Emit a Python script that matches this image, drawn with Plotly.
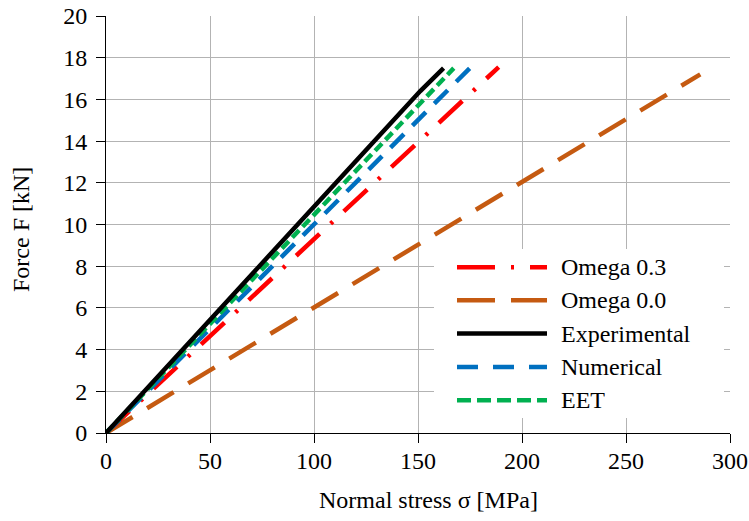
import plotly.graph_objects as go

# Force vs. normal stress for the five models / measurements
exp_stress = [0, 148.0, 151.1, 162.3]
exp_force = [0, 16.0, 16.4, 17.5]

eet_stress = [0, 167.2]
eet_force = [0, 17.5]

num_stress = [0, 174.9]
num_force = [0, 17.5]

om03_stress = [0, 188.8]
om03_force = [0, 17.55]

om00_stress = [0, 285.7]
om00_force = [0, 17.2]

x_ticks = [0, 50, 100, 150, 200, 250, 300]
y_ticks = [0, 2, 4, 6, 8, 10, 12, 14, 16, 18, 20]

FONT = "Liberation Serif"
FS = 24
W, H = 749, 521
ML, MR, MT, MB = 106, 19, 16, 88
PW, PH = W - ML - MR, H - MT - MB


def px_x(p):
    return (p - ML) / PW


def px_y(p):
    return (H - MB - p) / PH


series = [
    # name, x, y, color, plot dash, legend dash
    ("Omega 0.3", om03_stress, om03_force, "#FF0000", "32px,15px,3px,15px", "38px,16px,3px,16px"),
    ("Omega 0.0", om00_stress, om00_force, "#C55A11", "31px,17px", "38px,16px"),
    ("Experimental", exp_stress, exp_force, "#000000", "solid", "solid"),
    ("Numerical", num_stress, num_force, "#0070C0", "19px,12px", "21px,15px"),
    ("EET", eet_stress, eet_force, "#00B050", "10px,5px", "14px,6px"),
]

fig = go.Figure()
draw_order = [1, 0, 3, 4, 2]
for i in draw_order:
    name, xs, ys, col, dash, _ = series[i]
    fig.add_trace(go.Scatter(x=xs, y=ys, mode="lines", name=name,
                             line=dict(color=col, width=4.5, dash=dash),
                             showlegend=False))

# Legend drawn as a white panel with line samples and labels
shapes = [dict(type="rect", xref="paper", yref="paper", layer="above",
               x0=px_x(434), x1=px_x(724), y0=px_y(418), y1=px_y(249),
               fillcolor="white", line=dict(width=0))]
annotations = []
row_y = [267.3, 300.3, 333.6, 366.9, 400.2]
for (name, _, _, col, _, ldash), yy in zip(series, row_y):
    shapes.append(dict(type="line", xref="paper", yref="paper", layer="above",
                       x0=px_x(457), x1=px_x(547), y0=px_y(yy), y1=px_y(yy),
                       line=dict(color=col, width=4.5, dash=ldash)))
    annotations.append(dict(text=name, xref="paper", yref="paper",
                            x=px_x(559), y=px_y(yy), xanchor="left", yanchor="middle",
                            showarrow=False, font=dict(family=FONT, size=FS, color="black")))

annotations.append(dict(text="Normal stress σ [MPa]", xref="paper", yref="paper",
                        x=px_x(428), y=px_y(500), xanchor="center", yanchor="middle",
                        showarrow=False, font=dict(family=FONT, size=FS, color="black")))
annotations.append(dict(text="Force F [kN]", xref="paper", yref="paper",
                        x=px_x(21), y=px_y(230), xanchor="center", yanchor="middle",
                        textangle=-90, showarrow=False,
                        font=dict(family=FONT, size=FS, color="black")))

axis_common = dict(showgrid=True, gridcolor="#B3B3B3", gridwidth=1,
                   showline=True, linecolor="#000000", linewidth=1,
                   ticks="outside", ticklen=9, tickcolor="#000000", tickwidth=1,
                   zeroline=False, automargin=False,
                   tickfont=dict(family=FONT, size=FS, color="black"))

fig.update_layout(
    width=W, height=H,
    margin=dict(l=ML, r=MR, t=MT, b=MB),
    paper_bgcolor="white", plot_bgcolor="white",
    font=dict(family=FONT, size=FS, color="black"),
    xaxis=dict(range=[0, 300], tickvals=x_ticks, ticktext=[str(v) for v in x_ticks],
               ticklabelstandoff=-3, **axis_common),
    yaxis=dict(range=[0, 20], tickvals=y_ticks, ticktext=[str(v) for v in y_ticks],
               ticklabelstandoff=4, **axis_common),
    shapes=shapes,
    annotations=annotations,
    showlegend=False,
)

fig.write_html("out.html")
